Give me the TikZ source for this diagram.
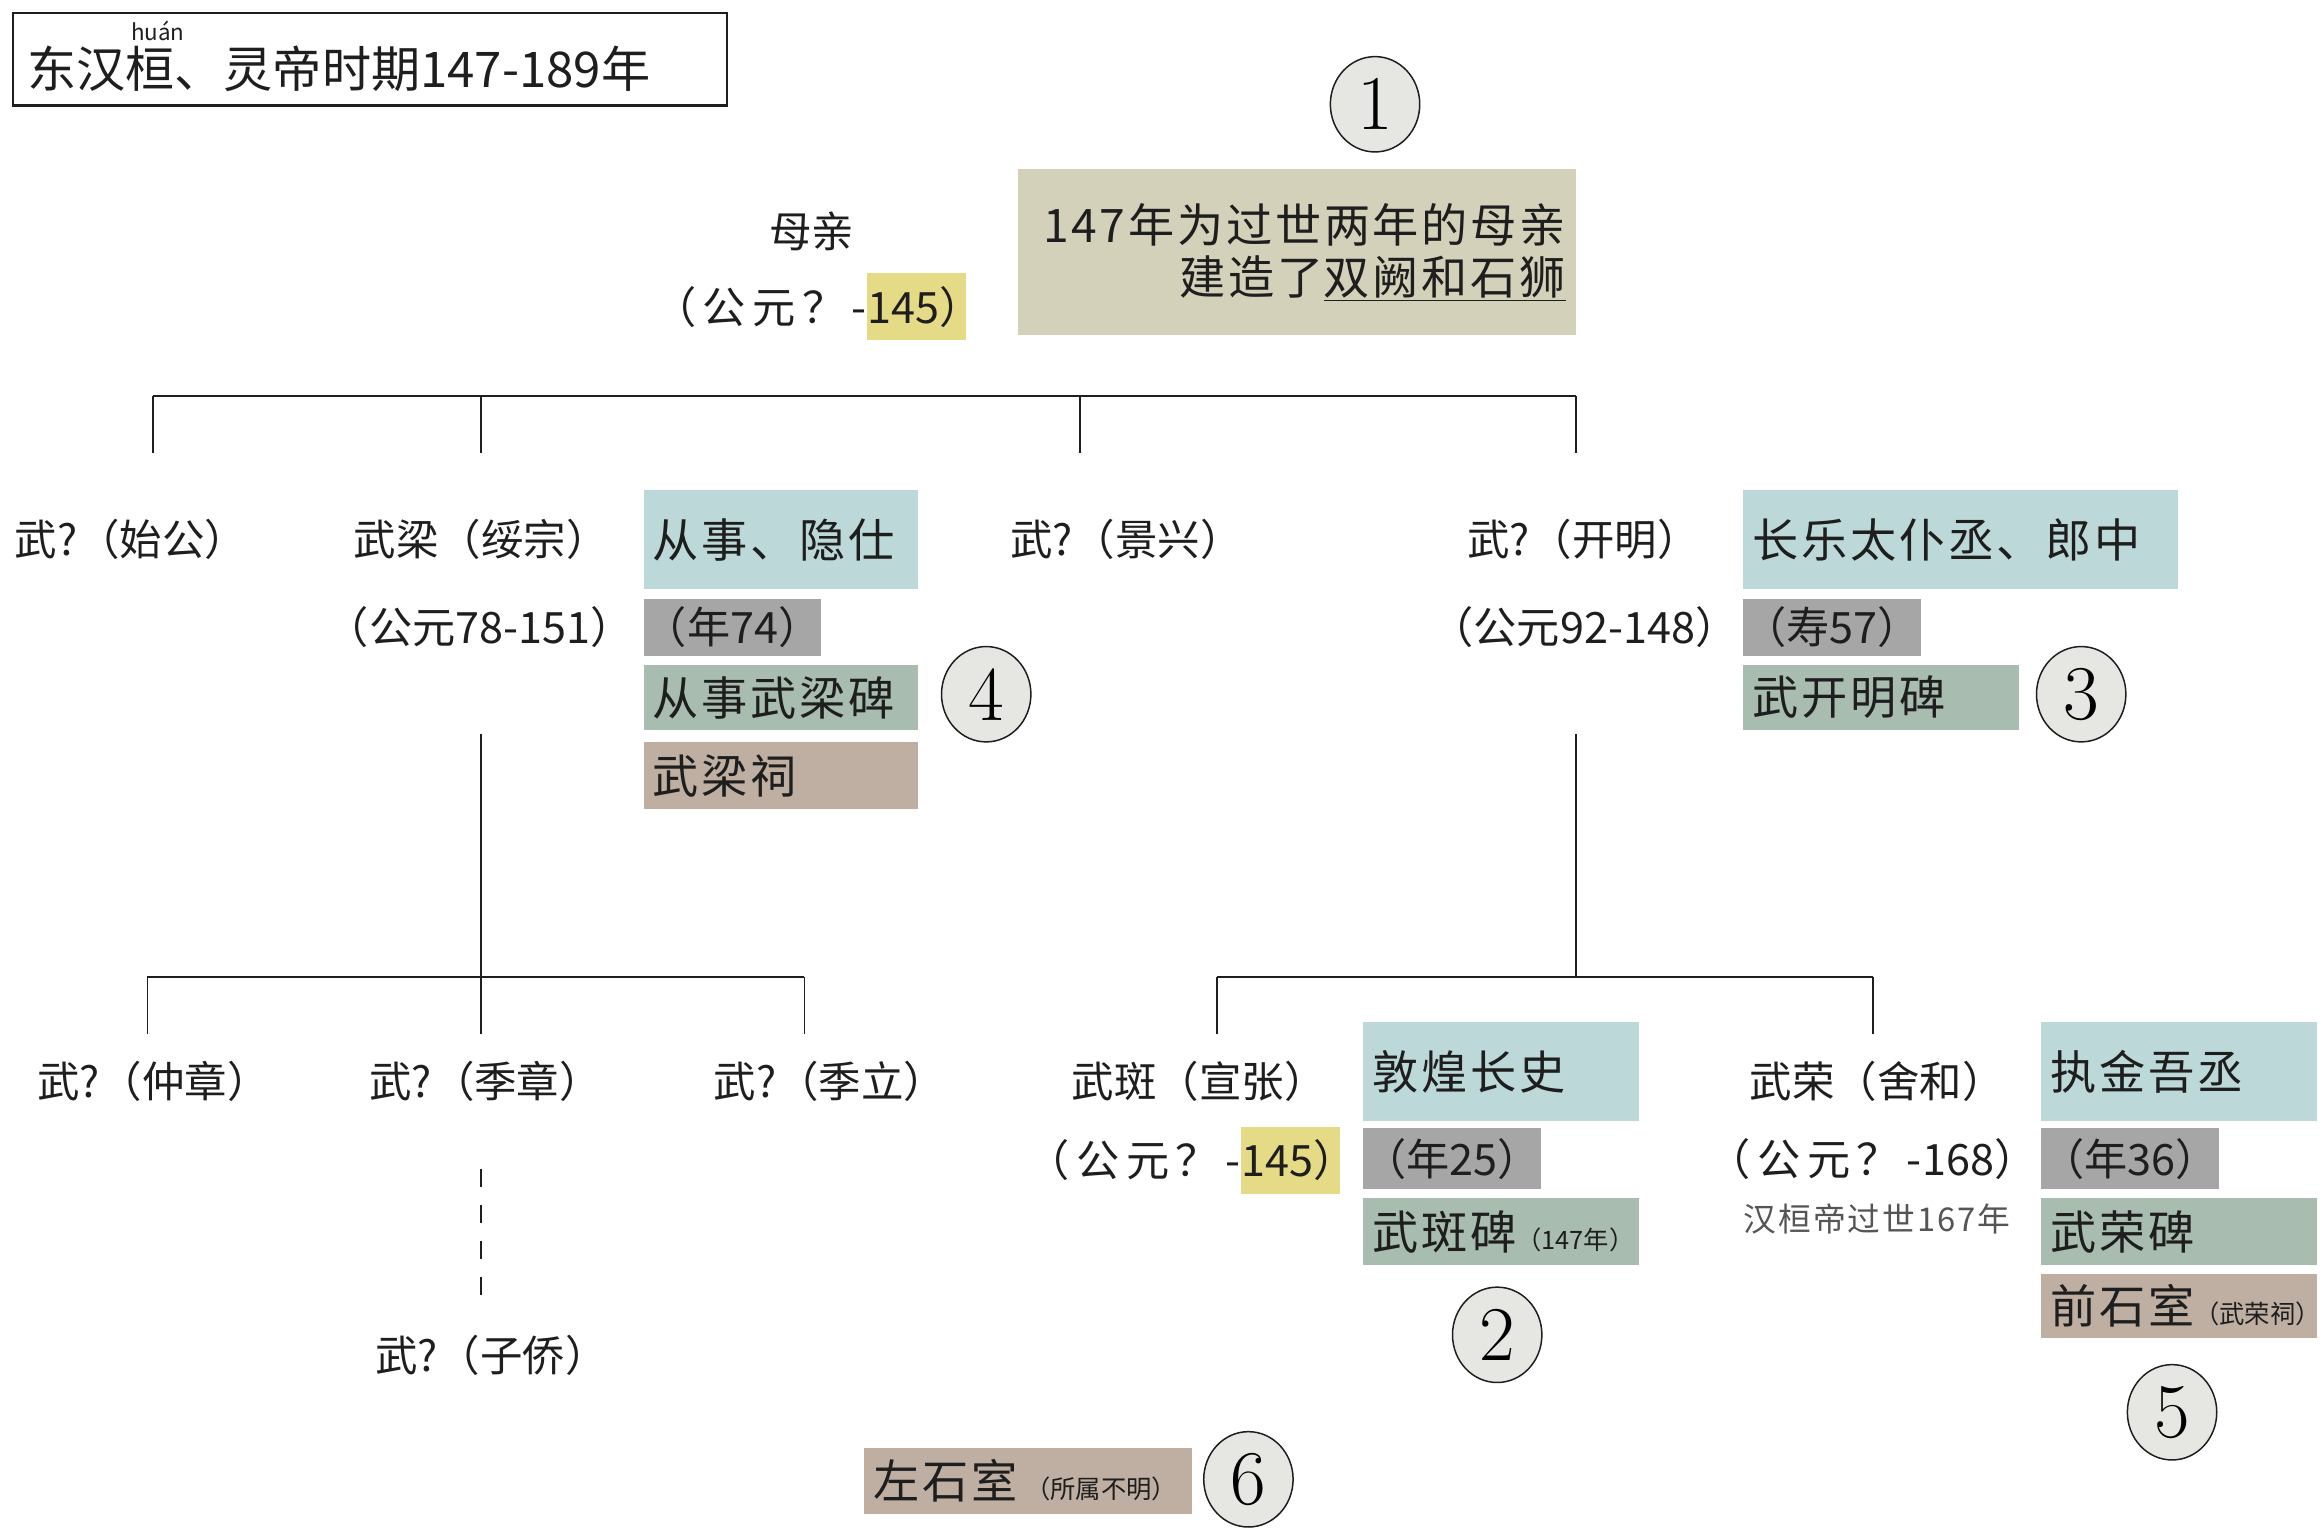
\documentclass[tikz,border=0pt]{standalone}
\usepackage{fontspec}
\newfontfamily\cjk{Noto Sans CJK SC}
\newfontfamily\cjksp[LetterSpace=6]{Noto Sans CJK SC}
\newfontfamily\cjkwide[LetterSpace=15]{Noto Sans CJK SC}
\usetikzlibrary{shapes.geometric,positioning}
\definecolor{offblue}{HTML}{BDD8D8}
\definecolor{agegray}{HTML}{A5A6A5}
\definecolor{stelegreen}{HTML}{A8BDB0}
\definecolor{shrinetan}{HTML}{BFAFA2}
\definecolor{tombkhaki}{HTML}{D3D1BA}
\definecolor{hlyellow}{HTML}{E5DB87}
\definecolor{badgefill}{HTML}{E6E7E2}
\definecolor{ink}{HTML}{1E1E1E}
\definecolor{notegray}{HTML}{555555}
\newcommand\aside[1]{{\cjk\fontsize{17}{19}\selectfont #1}}

\begin{document}
\begin{tikzpicture}[x=1pt,y=-1pt,
  person/.style={inner sep=0pt,text=ink,font=\cjk\fontsize{28.5}{32}\selectfont},
  dates/.style={inner sep=0pt,text=ink,font=\cjk\fontsize{29}{32}\selectfont},
  widedates/.style={dates,font=\cjkwide\fontsize{29}{32}\selectfont},
  hl/.style={dates,fill=hlyellow,anchor=west,minimum height=45pt},
  tag/.style={anchor=north west,inner xsep=6pt,inner ysep=0pt,align=left,text=ink,font=\cjksp\fontsize{31}{34}\selectfont},
  age/.style={anchor=north west,inner sep=0pt,fill=agegray,text=ink,font=\cjk\fontsize{29}{32}\selectfont},
  badge/.style={ellipse,draw=ink,line width=1pt,fill=badgefill,minimum width=60pt,minimum height=64pt,inner sep=0pt,font=\rmfamily\fontsize{52}{52}\selectfont},
  tree/.style={draw=ink,line width=1.3pt}]
\useasboundingbox (0,0) rectangle (1560,1032.4);

\node (titlebox) at (8,8)[anchor=north west,draw=ink,line width=1.6pt,minimum width=479pt,minimum height=62pt,inner sep=0pt] {};
\node (title) at (18,46)[anchor=west,inner sep=0pt,text=ink,font=\cjk\fontsize{33}{36}\selectfont] {东汉桓、灵帝时期147-189年};
\node (pinyin) at (106,21)[inner sep=0pt,text=ink,font=\cjk\fontsize{15}{15}\selectfont] {huán};

\node (mother) at (545,155)[person] {母亲};
\node (motheryr) at (582,206)[widedates,anchor=east] {（公元？-};
\node (motherdeath) [hl,right=0pt of motheryr] {145）\kern-11pt};
\node (tomb) at (683,113)[anchor=north west,fill=tombkhaki,minimum height=112pt,text width=361pt,inner xsep=7pt,inner ysep=0pt,align=right,text=ink,font=\cjksp\fontsize{31}{35}\selectfont] {147年为过世两年的母亲\\建造了\underline{双阙和石狮}};
\node (b1) at (923,70)[badge] {1};

\node (shigong) at (88,362)[person] {武?（始公）};
\node (liang) at (323,362)[person] {武梁（绥宗）};
\node (liangyr) at (322,421)[dates] {（公元78-151）};
\node (jingxing) at (756,362)[person] {武?（景兴）};
\node (kaiming) at (1063,362)[person] {武?（开明）};
\node (kaimingyr) at (1167,421)[dates,anchor=east] {（公元92-148）};

\node (liangoffice) at (432,329)[tag,fill=offblue,text width=172pt,minimum height=66pt] {从事、隐仕};
\node (liangage) at (432,402)[age,minimum width=113pt,minimum height=38pt] {（年74）};
\node (liangstele) at (432,446)[tag,fill=stelegreen,text width=172pt,minimum height=44pt] {从事武梁碑};
\node (liangshrine) at (432,498)[tag,fill=shrinetan,text width=172pt,minimum height=45pt] {武梁祠};
\node (b4) at (662,466)[badge] {4};

\node (kmoffice) at (1170,329)[tag,fill=offblue,text width=280pt,minimum height=66pt] {长乐太仆丞、郎中};
\node (kmage) at (1170,402)[age,minimum width=113pt,minimum height=38pt] {（寿57）};
\node (kmstele) at (1170,446)[tag,fill=stelegreen,text width=173pt,minimum height=44pt] {武开明碑};
\node (b3) at (1397,466)[badge] {3};

\node (zhongzhang) at (103,726)[person] {武?（仲章）};
\node (jizhang) at (326,726)[person] {武?（季章）};
\node (jili) at (557,726)[person] {武?（季立）};
\node (ziqiao) at (330,910)[person] {武?（子侨）};

\node (ban) at (805,726)[person] {武斑（宣张）};
\node (banyr) at (833,779)[widedates,anchor=east] {（公元？-};
\node (bandeath) [hl,right=0pt of banyr] {145）\kern-11pt};
\node (banoffice) at (915,686)[tag,fill=offblue,text width=173pt,minimum height=66pt] {敦煌长史};
\node (banage) at (915,757)[age,minimum width=113pt,minimum height=41pt] {（年25）};
\node (banstele) at (915,804)[tag,fill=stelegreen,text width=173pt,minimum height=45pt] {武斑碑\aside{（147年）}};
\node (b2) at (1005,896)[badge] {2};

\node (rong) at (1260,726)[person] {武荣（舍和）};
\node (rongyr) at (1290,778)[widedates,anchor=east] {（公元？-};
\node (rongdeath) [dates,right=0pt of rongyr] {168）};
\node (rongnote) at (1260,818)[inner sep=0pt,text=notegray,font=\cjksp\fontsize{22}{24}\selectfont] {汉桓帝过世167年};
\node (rongoffice) at (1370,686)[tag,fill=offblue,text width=173pt,minimum height=66pt] {执金吾丞};
\node (rongage) at (1370,757)[age,minimum width=114pt,minimum height=41pt] {（年36）};
\node (rongstele) at (1370,804)[tag,fill=stelegreen,text width=173pt,minimum height=45pt] {武荣碑};
\node (rongshrine) at (1370,855)[tag,fill=shrinetan,text width=173pt,minimum height=43pt] {前石室\aside{（武荣祠）}};
\node (b5) at (1458,948)[badge] {5};

\node (leftroom) at (580,972)[tag,fill=shrinetan,text width=208pt,minimum height=44pt] {左石室\,\aside{（所属不明）}};
\node (b6) at (838,993)[badge] {6};

\coordinate (gen1-l) at (103,266);
\coordinate (gen1-r) at (1058,266);
\coordinate (shigong-up) at (103,304);
\coordinate (liang-up) at (323,304);
\coordinate (jingxing-up) at (725,304);
\coordinate (kaiming-up) at (1058,304);
\draw[tree] (gen1-l) -- (gen1-r);
\draw[tree] (shigong-up |- gen1-l) -- (shigong-up);
\draw[tree] (liang-up |- gen1-l) -- (liang-up);
\draw[tree] (jingxing-up |- gen1-l) -- (jingxing-up);
\draw[tree] (kaiming-up |- gen1-l) -- (kaiming-up);

\coordinate (liang-down) at (323,493);
\coordinate (gen2a-l) at (99,656);
\coordinate (gen2a-r) at (540,656);
\coordinate (zhongzhang-up) at (99,694);
\coordinate (jizhang-up) at (323,694);
\coordinate (jili-up) at (540,694);
\draw[tree] (liang-down) -- (liang-down |- gen2a-l);
\draw[tree] (gen2a-l) -- (gen2a-r);
\draw[tree] (zhongzhang-up |- gen2a-l) -- (zhongzhang-up);
\draw[tree] (jizhang-up |- gen2a-l) -- (jizhang-up);
\draw[tree] (jili-up |- gen2a-l) -- (jili-up);

\coordinate (kaiming-down) at (1058,493);
\coordinate (gen2b-l) at (817,656);
\coordinate (gen2b-r) at (1257,656);
\coordinate (ban-up) at (817,694);
\coordinate (rong-up) at (1257,694);
\draw[tree] (kaiming-down) -- (kaiming-down |- gen2b-l);
\draw[tree] (gen2b-l) -- (gen2b-r);
\draw[tree] (ban-up |- gen2b-l) -- (ban-up);
\draw[tree] (rong-up |- gen2b-l) -- (rong-up);

\coordinate (jizhang-down) at (323,785);
\coordinate (ziqiao-up) at (323,870);
\draw[tree,dash pattern=on 12pt off 12pt] (jizhang-down) -- (ziqiao-up);
\end{tikzpicture}
\end{document}
